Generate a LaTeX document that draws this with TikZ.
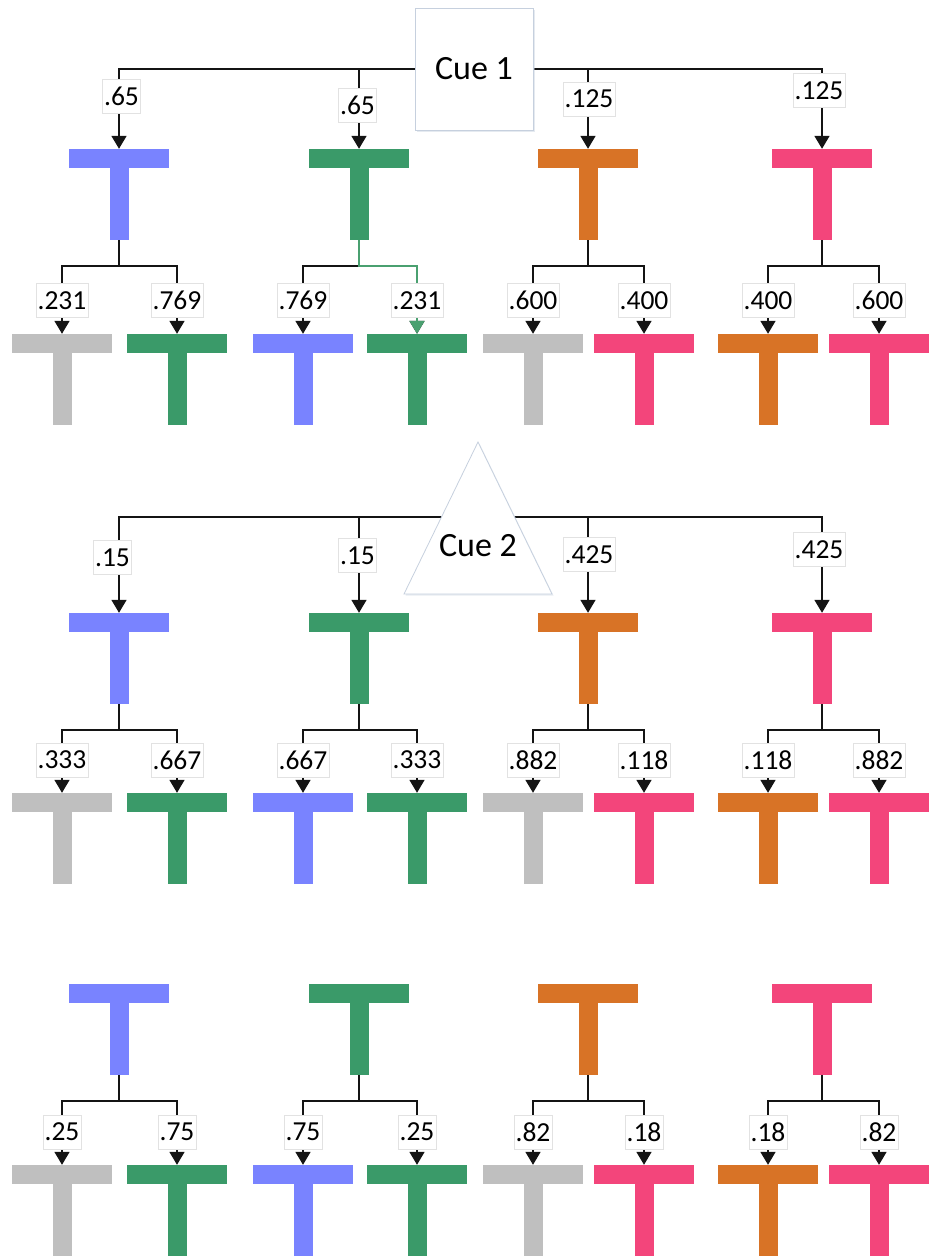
\documentclass[tikz,border=0pt]{standalone}
\usepackage{fontspec}
\setmainfont{Carlito}
\usetikzlibrary{arrows.meta,shadows}

\definecolor{tblue}{RGB}{121,131,255}
\definecolor{tgreen}{RGB}{58,154,105}
\definecolor{torange}{RGB}{216,115,38}
\definecolor{tpink}{RGB}{243,69,123}
\definecolor{tgray}{RGB}{191,191,191}
\definecolor{hgreen}{RGB}{74,160,112}
\definecolor{labline}{RGB}{226,226,226}
\definecolor{cueline}{RGB}{198,208,222}
\definecolor{ink}{RGB}{20,20,20}

\begin{document}
\begin{tikzpicture}[x=1pt,y=-1pt,
  % a coloured "T" glyph drawn inside an invisible 100 x 91 box
  tee/.style={minimum width=100pt,minimum height=91pt,inner sep=0pt,
    path picture={
      \fill[#1] (path picture bounding box.north west)
        rectangle ([yshift=-19pt]path picture bounding box.north east);
      \fill[#1] ([xshift=-9.5pt]path picture bounding box.north)
        rectangle ([xshift=9.5pt]path picture bounding box.south);
    }},
  conn/.style={draw=ink,line width=1.8pt,-{Triangle[width=15pt,length=13pt]}},
  lab/.style={fill=white,draw=labline,line width=0.6pt,
    font=\fontsize{27.5pt}{32pt}\selectfont,
    inner xsep=1.5pt,inner ysep=0pt,minimum height=34pt},
  cuefont/.style={font=\fontsize{34pt}{40pt}\selectfont},
  cuebox/.style={cuefont,fill=white,draw=cueline,line width=0.8pt,
    minimum width=118pt,minimum height=122pt,
    drop shadow={shadow xshift=1.5pt,shadow yshift=-1.5pt,fill=cueline,opacity=0.45}},
]
\useasboundingbox (0,0) rectangle (937,1258);

% ---- the twelve parent T's and twenty-four child T's ----
\foreach \s/\py/\cy in {1/194.5/379.5,2/658.5/838.5,3/1029.5/1210.5}{
  \foreach \i/\x/\col in {1/119/tblue,2/359/tgreen,3/588/torange,4/822/tpink}
    \node[tee=\col] (p\s\i) at (\x,\py) {};
  \foreach \j/\x/\col in {1/62/tgray,2/177/tgreen,3/303/tblue,4/417/tgreen,
                          5/533/tgray,6/644/tpink,7/768/torange,8/879/tpink}
    \node[tee=\col] (c\s\j) at (\x,\cy) {};
}

% ---- parent -> child connectors ----
\foreach \s in {1,2,3}{
  \foreach \i/\a/\b in {1/1/2,2/3/4,3/5/6,4/7/8}{
    \draw[conn] (p\s\i.south) -- ++(0,26) -| (c\s\a.north);
    \draw[conn] (p\s\i.south) -- ++(0,26) -| (c\s\b.north);
  }
}
% highlighted branch
\draw[conn,draw=hgreen] (p12.south) -- ++(0,26) -| (c14.north);

% ---- cue 1 ----
\draw[conn] (474,69) -| (p11.north);
\draw[conn] (474,69) -| (p12.north);
\draw[conn] (474,69) -| (p13.north);
\draw[conn] (474,69) -| (p14.north);
\node[cuebox] (cue1) at (474,69) {Cue 1};

% ---- cue 2 ----
\coordinate (c2j) at (478,517);
\draw[conn] (c2j) -| (p21.north);
\draw[conn] (c2j) -| (p22.north);
\draw[conn] (c2j) -| (p23.north);
\draw[conn] (c2j) -| (p24.north);
\fill[cueline,opacity=0.4] (405.5,595.5) -- (479.5,443.5) -- (553.5,595.5) -- cycle;
\draw[fill=white,draw=cueline,line width=0.8pt] (404,594) -- (478,442) -- (552,594) -- cycle;
\node[cuefont,anchor=base] (cue2) at (478,556) {Cue 2};

% ---- probability labels, cue level ----
\node[lab] (l11) at (121.5,96.5) {.65};
\node[lab] (l12) at (357.5,105.5) {.65};
\node[lab] (l13) at (589,99) {.125};
\node[lab] (l14) at (819,90.5) {.125};
\node[lab] (l21) at (112.5,557.5) {.15};
\node[lab] (l22) at (357.5,555.5) {.15};
\node[lab] (l23) at (589,554.5) {.425};
\node[lab] (l24) at (819,549.5) {.425};

% ---- probability labels, second level ----
\foreach \s/\ly/\labs in {1/300.5/{.231,.769,.769,.231,.600,.400,.400,.600},
                          2/760/{.333,.667,.667,.333,.882,.118,.118,.882},
                          3/1132/{.25,.75,.75,.25,.82,.18,.18,.82}}{
  \foreach \t [count=\j] in \labs
    \node[lab] (m\s\j) at (c\s\j.north |- 0,\ly) {\t};
}
\end{tikzpicture}
\end{document}
